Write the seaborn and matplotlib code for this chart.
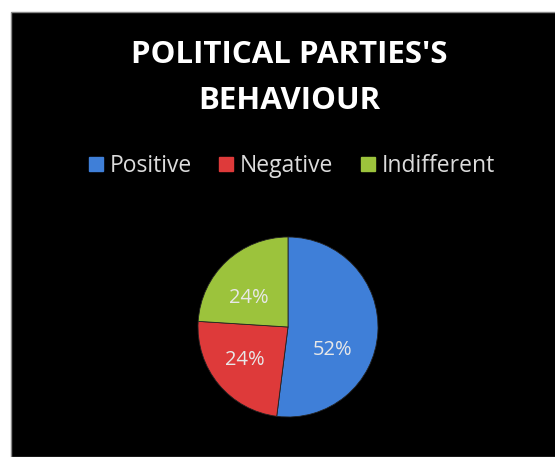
import matplotlib
matplotlib.use("Agg")
import matplotlib.pyplot as plt
import seaborn as sns
from matplotlib.patches import Rectangle
from matplotlib.lines import Line2D

sns.set_style("white")
plt.rcParams["font.family"] = ["Open Sans", "DejaVu Sans"]

categories = ["Positive", "Negative", "Indifferent"]
values = [52, 24, 24]
title_lines = ["POLITICAL PARTIES'S", "BEHAVIOUR"]
colors = sns.color_palette(["#3f7fd8", "#de3a3a", "#9cc33c"])

fig = plt.figure(figsize=(5.55, 4.57), dpi=100, facecolor="white")
# black chart panel
fig.patches.append(Rectangle((11 / 555, 0), 1, 1 - 12 / 457, transform=fig.transFigure,
                             facecolor="black", edgecolor="#888888", linewidth=1.0, zorder=-10))

ax = fig.add_axes([198 / 555, 40 / 457, 180 / 555, 180 / 457])
ax.set_facecolor("none")
wedges, texts, autotexts = ax.pie(values, colors=colors, startangle=90, counterclock=False,
                                  autopct=lambda p: f"{p:.0f}%", pctdistance=0.6,
                                  wedgeprops=dict(linewidth=0.6, edgecolor="#222222"),
                                  textprops=dict(color="#e8e8e8", fontsize=14.5))
ax.set_xlim(-1, 1)
ax.set_ylim(-1, 1)
ax.set_aspect("equal")
ax.axis("off")
# Excel-like label placement
x, y = autotexts[0].get_position()
autotexts[0].set_position((x - 0.1, y - 0.22))
x, y = autotexts[1].get_position()
autotexts[1].set_position((x - 0.02, y + 0.02))
x, y = autotexts[2].get_position()
autotexts[2].set_position((x - 0.03, y - 0.12))

fig.text(289 / 555, 1 - 55 / 457, title_lines[0], ha="center", va="center", color="white",
         fontsize=22.5, fontweight="bold")
fig.text(289 / 555, 1 - 101 / 457, title_lines[1], ha="center", va="center", color="white",
         fontsize=22.5, fontweight="bold")

handles = [Line2D([], [], marker="s", linestyle="none", markersize=9.5, markerfacecolor=c,
                  markeredgecolor=c) for c in colors]
leg = fig.legend(handles, categories, loc="center", bbox_to_anchor=(292 / 555, 1 - 166 / 457),
                 ncol=3, frameon=False, fontsize=16.5, handletextpad=0.3, columnspacing=1.2,
                 handlelength=0.6)
for t in leg.get_texts():
    t.set_color("#dcdcdc")

fig.savefig("out.png", dpi=100, facecolor="white")
